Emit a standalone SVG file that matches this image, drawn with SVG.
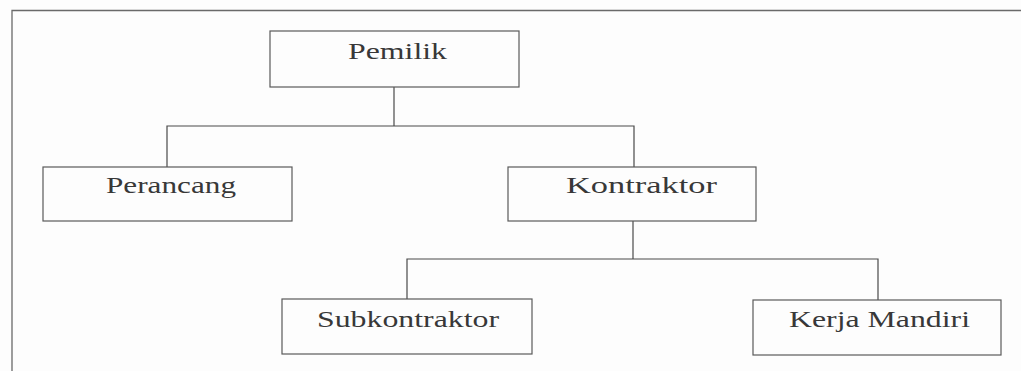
<svg xmlns="http://www.w3.org/2000/svg" width="1021" height="371" viewBox="0 0 1021 371">
  <style>
    .box { fill: none; stroke: #5a5a5a; stroke-width: 1.2; }
    .wire { fill: none; stroke: #4a4a4a; stroke-width: 1.2; }
    .frame { fill: none; stroke: #6a6a6a; stroke-width: 1.3; }
    .label { font-family: "Liberation Serif", "Times New Roman", serif; font-size: 23.5px; fill: #383838; }
  </style>
  <rect width="1021" height="371" fill="#fdfdfd"/>

  <!-- outer frame -->
  <path class="frame" d="M12 371 V10.5 H1021"/>

  <!-- connectors -->
  <g id="connectors">
    <path class="wire" d="M394 87 V126"/>
    <path class="wire" d="M167 167 V126 H634 V167"/>
    <path class="wire" d="M633 221 V259"/>
    <path class="wire" d="M407 299 V259 H878 V300"/>
  </g>

  <g id="pemilik">
    <rect class="box" x="270" y="31" width="249" height="56"/>
    <text class="label" x="348" y="59" textLength="99" lengthAdjust="spacingAndGlyphs">Pemilik</text>
  </g>

  <g id="perancang">
    <rect class="box" x="43" y="167" width="249" height="54"/>
    <text class="label" x="106" y="193" textLength="130" lengthAdjust="spacingAndGlyphs">Perancang</text>
  </g>

  <g id="kontraktor">
    <rect class="box" x="508" y="167" width="248" height="54"/>
    <text class="label" x="566" y="193" textLength="151" lengthAdjust="spacingAndGlyphs">Kontraktor</text>
  </g>

  <g id="subkontraktor">
    <rect class="box" x="282" y="299" width="250" height="55"/>
    <text class="label" x="317" y="327" textLength="182" lengthAdjust="spacingAndGlyphs">Subkontraktor</text>
  </g>

  <g id="kerja-mandiri">
    <rect class="box" x="753" y="300" width="248" height="55"/>
    <text class="label" x="789" y="327" textLength="181" lengthAdjust="spacingAndGlyphs">Kerja Mandiri</text>
  </g>
</svg>
